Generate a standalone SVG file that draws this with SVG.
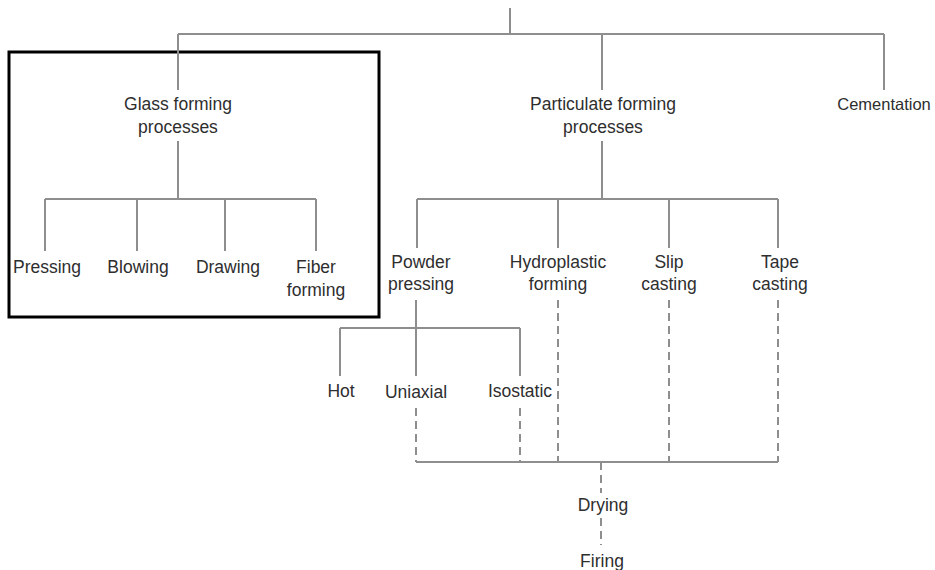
<svg xmlns="http://www.w3.org/2000/svg" width="935" height="570" viewBox="0 0 935 570">
<style>
text{font-family:"Liberation Sans",Arial,sans-serif;font-size:17.5px;fill:#2e2e2e;text-anchor:middle}
.l{stroke:#8e8e8e;stroke-width:2;fill:none}
.d{stroke:#8e8e8e;stroke-width:2;fill:none;stroke-dasharray:8 5}
</style>
<rect width="935" height="570" fill="#fff"/>
<rect x="9" y="52" width="370" height="265" fill="none" stroke="#000" stroke-width="3"/>
<g id="connectors">
<path class="l" d="M510 8V34M178 34H884M178 34V90M602 34V90M884 34V90"/>
<path class="l" d="M178 141V199M45 199H316M45 199V251M137 199V251M225 199V251M316 199V251"/>
<path class="l" d="M602 141V199M417 199H778M417 199V248M558 199V248M669 199V248M778 199V248"/>
<path class="l" d="M416 300V376M340 328H520M340 328V376M520 328V376"/>
<path class="d" d="M416 408V462M520 408V462M558 300V462M669 300V462M778 300V462"/>
<path class="l" d="M416 462H778"/>
<path class="d" d="M601 462V493M601 518V545"/>
</g>
<g id="glass"><text x="178" y="110">Glass forming</text><text x="178" y="133">processes</text></g>
<g id="particulate"><text x="603" y="110">Particulate forming</text><text x="603" y="133">processes</text></g>
<g id="cementation"><text x="884" y="110" style="font-size:16.5px">Cementation</text></g>
<g id="pressing"><text x="47" y="273">Pressing</text></g>
<g id="blowing"><text x="138" y="273">Blowing</text></g>
<g id="drawing"><text x="228" y="273">Drawing</text></g>
<g id="fiber"><text x="316" y="273">Fiber</text><text x="316" y="296">forming</text></g>
<g id="powder"><text x="421" y="268">Powder</text><text x="421" y="290">pressing</text></g>
<g id="hydroplastic"><text x="558" y="268">Hydroplastic</text><text x="558" y="290">forming</text></g>
<g id="slip"><text x="669" y="268">Slip</text><text x="669" y="290">casting</text></g>
<g id="tape"><text x="780" y="268">Tape</text><text x="780" y="290">casting</text></g>
<g id="hot"><text x="341" y="397">Hot</text></g>
<g id="uniaxial"><text x="416" y="398">Uniaxial</text></g>
<g id="isostatic"><text x="520" y="397">Isostatic</text></g>
<g id="drying"><text x="603" y="511">Drying</text></g>
<g id="firing"><text x="602" y="567">Firing</text></g>
</svg>
